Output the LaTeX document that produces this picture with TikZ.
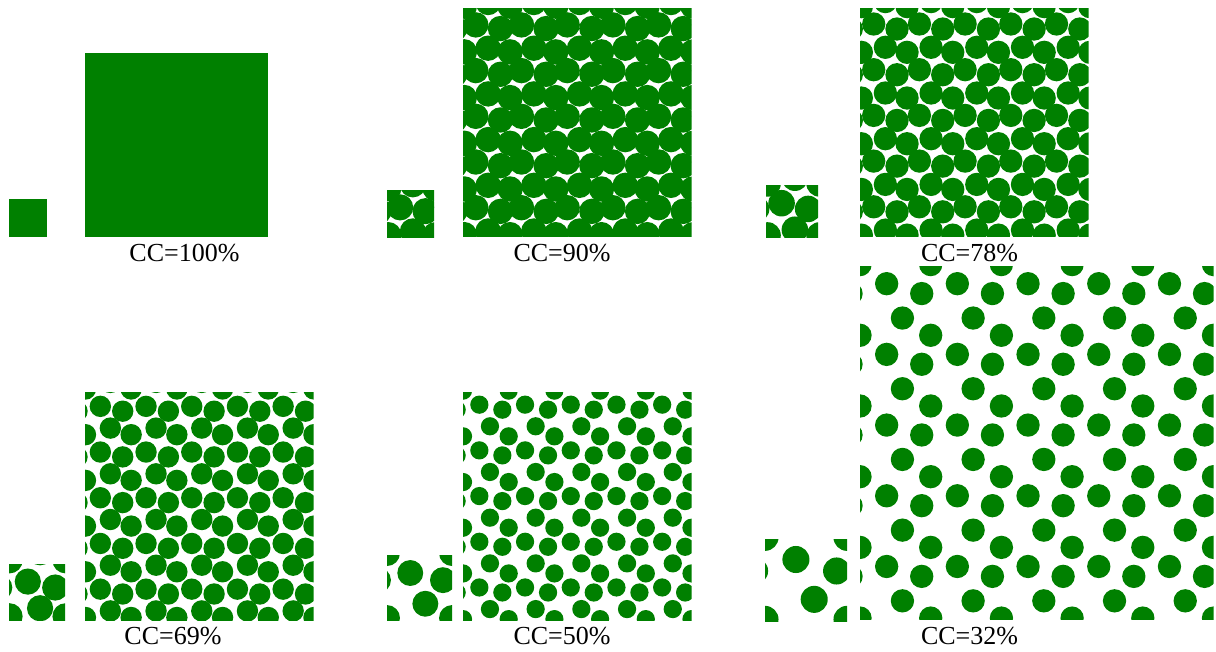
\documentclass[tikz,border=0pt]{standalone}
\usepackage{fontspec}
\setmainfont{Liberation Serif}
\definecolor{gr}{RGB}{0,128,0}
\newcommand\cellpat[5]{% #1 x0, #2 y0, #3 size, #4 period, #5 radius (rel), positions in \cellpos
  \begin{scope}
    \clip (#1,#2) rectangle ++(#3,#3);
    \pgfmathtruncatemacro\nn{ceil(#3/#4)}
    \foreach \i in {-1,...,\nn}{
      \foreach \j in {-1,...,\nn}{
        \foreach \px/\py in \cellpos{
          \fill[gr] ({#1+(\i+\px)*#4},{#2+(\j+\py)*#4}) circle[radius={(#5)*(#4)*1pt}];
        }
      }
    }
  \end{scope}}
\tikzset{cclabel/.style={anchor=base,inner sep=0pt,font=\fontsize{26}{31}\selectfont}}
\begin{document}
\begin{tikzpicture}[x=1pt,y=-1pt]
\useasboundingbox (0,0) rectangle (1216,651);
% CC=100%
\fill[gr] (9,199) rectangle ++(38,38);
\fill[gr] (85,53) rectangle ++(183,184);
\node[cclabel] (l100) at (184.5,261) {CC=100\%};
% CC=90%
\def\cellpos{0.03/-0.04,0.28/0.37,0.82/0.45,0.55/0.88}
\cellpat{387}{190}{47}{47}{0.278}
\cellpat{463}{8}{228.5}{45.7}{0.278}
\node[cclabel] (l90) at (562,261) {CC=90\%};
% CC=78%
\def\cellpos{0.03/-0.03,0.30/0.35,0.81/0.46,0.555/0.86}
\cellpat{766}{185}{52}{52}{0.255}
\cellpat{860}{8}{228.5}{45.7}{0.255}
\node[cclabel] (l78) at (969.5,261) {CC=78\%};
% CC=69%
\def\cellpos{0.01/-0.066,0.336/0.314,0.825/0.42,0.555/0.79}
\cellpat{9}{564}{56}{56}{0.234}
\cellpat{85}{392}{228.5}{45.7}{0.234}
\node[cclabel] (l69) at (173,644) {CC=69\%};
% CC=50%
\def\cellpos{0/-0.03,0.358/0.277,0.861/0.387,0.59/0.75}
\cellpat{387}{555}{65}{65}{0.1995}
\cellpat{463}{392}{228.5}{45.7}{0.1995}
\node[cclabel] (l50) at (562,644) {CC=50\%};
% CC=32%
\def\cellpos{0/-0.02,0.377/0.25,0.873/0.39,0.60/0.736}
\cellpat{765}{539}{82}{82}{0.165}
\cellpat{860}{266}{353.5}{70.7}{0.165}
\node[cclabel] (l32) at (969.5,644) {CC=32\%};
\end{tikzpicture}
\end{document}
